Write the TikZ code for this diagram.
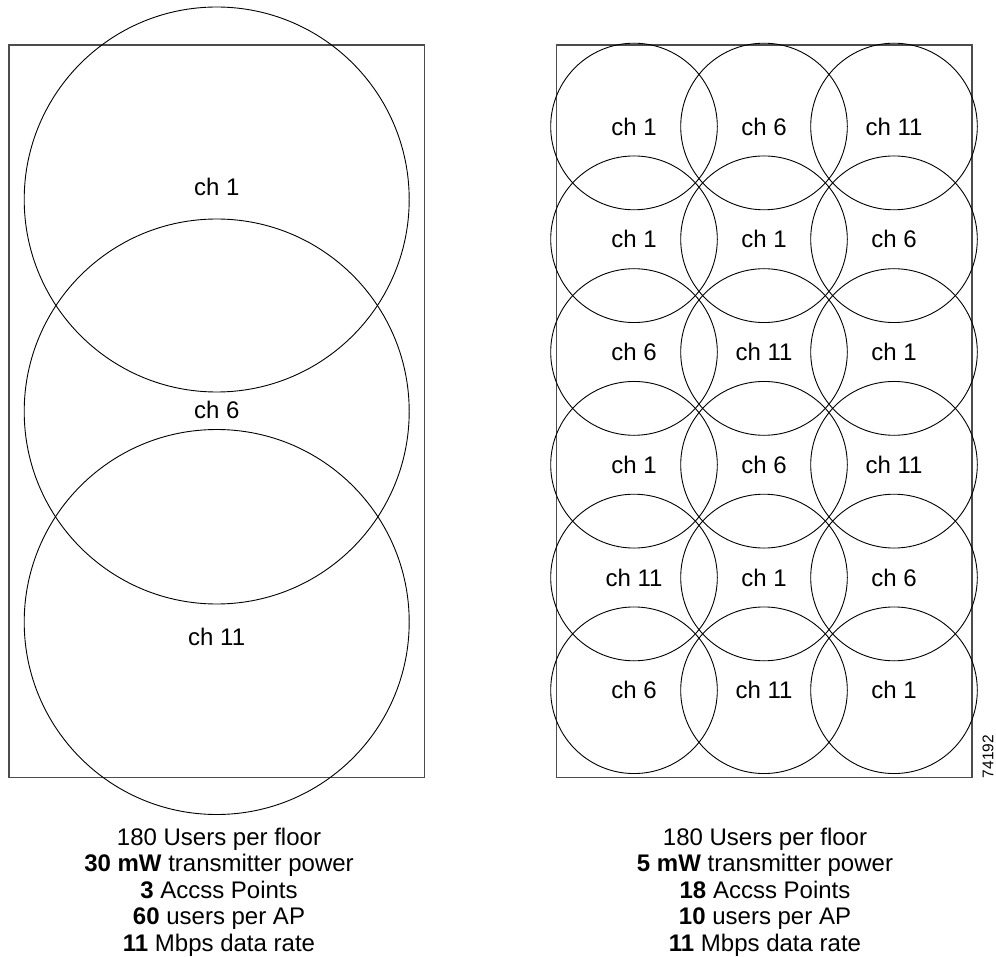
\documentclass[tikz,border=0pt]{standalone}
\usepackage{fontspec}
\setmainfont{Liberation Sans}
\begin{document}
\begin{tikzpicture}[x=1pt,y=-1pt,
  frame/.style={draw=black!70,line width=1.2pt},
  bigcircle/.style={draw=black,line width=0.9pt},
  cell/.style={circle,draw=black,line width=0.9pt,minimum size=166.6pt,inner sep=0pt,font=\fontsize{24}{28}\selectfont},
  chlabel/.style={inner sep=0pt,font=\fontsize{24}{28}\selectfont},
  infoline/.style={anchor=base,inner sep=0pt,font=\fontsize{24}{28}\selectfont},
  figno/.style={rotate=90,inner sep=0pt,font=\fontsize{15.5}{18}\selectfont}]
\useasboundingbox (0,0) rectangle (996,957);
% left floor
\draw[frame] (9,45) rectangle (424.7,777.7);
\draw[bigcircle] (216.7,199.5) circle[radius=192.5];
\draw[bigcircle] (216.7,411.5) circle[radius=192.5];
\draw[bigcircle] (216.7,622) circle[radius=192.5];
\node[chlabel] (l1) at (216.7,187) {ch 1};
\node[chlabel] (l2) at (216.7,410) {ch 6};
\node[chlabel] (l3) at (216.7,637) {ch 11};
% right floor
\draw[frame] (556.3,45) rectangle (972,777.7);
\node[cell] (a1) at (634,126.5) {ch 1};
\node[cell] (a2) at (764,126.5) {ch 6};
\node[cell] (a3) at (894,126.5) {ch 11};
\node[cell] (b1) at (634,239.25) {ch 1};
\node[cell] (b2) at (764,239.25) {ch 1};
\node[cell] (b3) at (894,239.25) {ch 6};
\node[cell] (c1) at (634,352) {ch 6};
\node[cell] (c2) at (764,352) {ch 11};
\node[cell] (c3) at (894,352) {ch 1};
\node[cell] (d1) at (634,464.75) {ch 1};
\node[cell] (d2) at (764,464.75) {ch 6};
\node[cell] (d3) at (894,464.75) {ch 11};
\node[cell] (e1) at (634,577.5) {ch 11};
\node[cell] (e2) at (764,577.5) {ch 1};
\node[cell] (e3) at (894,577.5) {ch 6};
\node[cell] (f1) at (634,690.25) {ch 6};
\node[cell] (f2) at (764,690.25) {ch 11};
\node[cell] (f3) at (894,690.25) {ch 1};
\node[figno] (fig) at (988,756.5) {74192};
% left info
\node[infoline] (li1) at (219,845) {180 Users per floor};
\node[infoline] (li2) at (219,871.5) {\textbf{30 mW} transmitter power};
\node[infoline] (li3) at (219,898) {\textbf{3} Accss Points};
\node[infoline] (li4) at (219,924.5) {\textbf{60} users per AP};
\node[infoline] (li5) at (219,951) {\textbf{11} Mbps data rate};
% right info
\node[infoline] (ri1) at (765,845) {180 Users per floor};
\node[infoline] (ri2) at (765,871.5) {\textbf{5 mW} transmitter power};
\node[infoline] (ri3) at (765,898) {\textbf{18} Accss Points};
\node[infoline] (ri4) at (765,924.5) {\textbf{10} users per AP};
\node[infoline] (ri5) at (765,951) {\textbf{11} Mbps data rate};
\end{tikzpicture}
\end{document}
